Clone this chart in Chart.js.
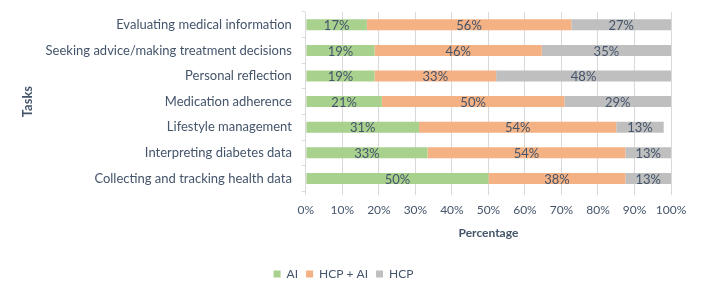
<!DOCTYPE html>
<html>
<head>
<meta charset="utf-8">
<script src="https://cdn.jsdelivr.net/npm/chart.js@4"></script>
<style>
  html, body { margin: 0; padding: 0; background: #fff; }
  #wrap { width: 702px; height: 296px; }
</style>
</head>
<body>
<div id="wrap"><canvas id="taskChart"></canvas></div>
<script>
// tasks, top to bottom
const tasks = [
    'Evaluating medical information',
    'Seeking advice/making treatment decisions',
    'Personal reflection',
    'Medication adherence',
    'Lifestyle management',
    'Interpreting diabetes data',
    'Collecting and tracking health data'
];
const aiShare = [16.7, 18.8, 18.8, 20.8, 31, 33.3, 50];
const hcpAiShare = [56, 45.8, 33.3, 50, 54, 54.2, 37.5];
const hcpShare = [27.3, 35.4, 47.9, 29.2, 13, 12.5, 12.5];
const xTicks = [0, 10, 20, 30, 40, 50, 60, 70, 80, 90, 100];

const textColor = '#44546a';
const fontFamily = 'Lato, "Open Sans", sans-serif';

// draws the % value in the middle of every bar piece
const barLabels = {
    id: 'barLabels',
    afterDatasetsDraw(chart) {
        const ctx = chart.ctx;
        ctx.save();
        ctx.font = '13px ' + fontFamily;
        ctx.fillStyle = textColor;
        ctx.textAlign = 'center';
        ctx.textBaseline = 'middle';
        chart.data.datasets.forEach(function (ds, i) {
            chart.getDatasetMeta(i).data.forEach(function (bar, j) {
                const v = ds.data[j];
                const cx = (bar.x + bar.base) / 2;
                ctx.fillText(Math.round(v) + '%', cx, bar.y + 1);
            });
        });
        ctx.restore();
    }
};

const ctx = document.getElementById('taskChart').getContext('2d');
new Chart(ctx, {
    type: 'bar',
    data: {
        labels: tasks,
        datasets: [
            { label: 'AI', data: aiShare, backgroundColor: '#a9d18e' },
            { label: 'HCP + AI', data: hcpAiShare, backgroundColor: '#f4b183' },
            { label: 'HCP', data: hcpShare, backgroundColor: '#bfbfbf' }
        ]
    },
    options: {
        indexAxis: 'y',
        responsive: true,
        maintainAspectRatio: false,
        animation: false,
        datasets: {
            bar: { categoryPercentage: 1, barPercentage: 0.43 }
        },
        layout: { padding: { left: 16, right: 31, top: 12, bottom: 6 } },
        scales: {
            x: {
                stacked: true,
                min: 0,
                max: 100,
                afterBuildTicks: function (axis) {
                    axis.ticks = xTicks.map(v => ({ value: v }));
                },
                ticks: {
                    color: textColor,
                    font: { family: fontFamily, size: 12 },
                    padding: 8,
                    callback: v => v + '%'
                },
                grid: { color: '#d9d9d9', tickLength: 4 },
                border: { display: false },
                title: {
                    display: true,
                    text: 'Percentage',
                    color: textColor,
                    font: { family: fontFamily, size: 12, weight: 'bold' },
                    padding: { top: 0, bottom: 20 }
                }
            },
            y: {
                stacked: true,
                // labels sit inside the category bands, no extra room needed
                afterFit: function (scale) {
                    scale.paddingTop = 0;
                    scale.paddingBottom = 0;
                },
                ticks: {
                    color: textColor,
                    font: { family: fontFamily, size: 13 },
                    padding: 10
                },
                grid: { drawOnChartArea: false, tickLength: 4, color: '#d9d9d9' },
                border: { color: '#d9d9d9' },
                title: {
                    display: true,
                    text: 'Tasks',
                    color: textColor,
                    font: { family: fontFamily, size: 13, weight: 'bold' },
                    padding: { top: 4, bottom: 0 }
                }
            }
        },
        plugins: {
            legend: {
                position: 'bottom',
                labels: {
                    boxWidth: 7,
                    boxHeight: 7,
                    padding: 8,
                    color: textColor,
                    font: { family: fontFamily, size: 12 }
                }
            },
            tooltip: { enabled: false }
        }
    },
    plugins: [barLabels]
});
</script>
</body>
</html>
